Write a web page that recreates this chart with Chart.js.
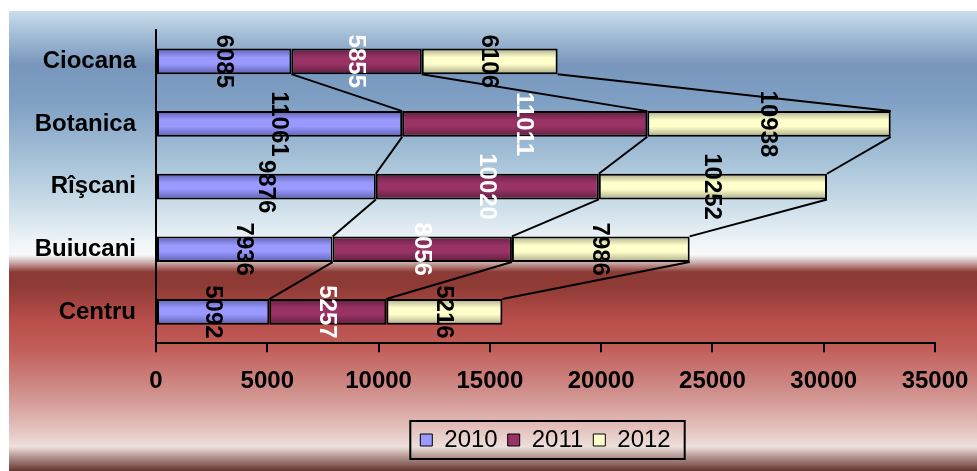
<!DOCTYPE html>
<html>
<head>
<meta charset="utf-8">
<script src="https://cdn.jsdelivr.net/npm/chart.js@4/dist/chart.umd.min.js"></script>
<style>
  html, body { margin: 0; padding: 0; background: #fff; }
  #wrap { width: 977px; height: 471px; }
</style>
</head>
<body>
<div id="wrap"><canvas id="sectorChart"></canvas></div>
<script>
const categories = ['Ciocana', 'Botanica', 'Rîşcani', 'Buiucani', 'Centru'];
const years = ['2010', '2011', '2012'];
const values2010 = [6085, 11061, 9876, 7936, 5092];
const values2011 = [5855, 11011, 10020, 8056, 5257];
const values2012 = [6106, 10938, 10252, 7986, 5216];
const xTicks = [0, 5000, 10000, 15000, 20000, 25000, 30000, 35000];

const FONT = "'Liberation Sans', Arial, sans-serif";
const baseColors = ['#9999ff', '#993366', '#ffffcc'];
const edgeColors = ['#5f5fae', '#5e1e3e', '#a9a985'];
const labelColors = ['#000', '#fff', '#000'];
const BAR_PCT = 0.41;

// shaded bar fill, computed from the category scale
function barFill(i) {
  return (ctx) => {
    const chart = ctx.chart;
    const y = chart.scales.y;
    if (!chart.chartArea || !y || ctx.dataIndex === undefined) return baseColors[i];
    const c = y.getPixelForValue(ctx.dataIndex);
    const h = Math.abs(y.getPixelForValue(1) - y.getPixelForValue(0)) * BAR_PCT;
    const g = chart.ctx.createLinearGradient(0, c - h / 2, 0, c + h / 2);
    g.addColorStop(0, edgeColors[i]);
    g.addColorStop(0.35, baseColors[i]);
    g.addColorStop(0.6, baseColors[i]);
    g.addColorStop(1, edgeColors[i]);
    return g;
  };
}

const backdrop = {
  id: 'backdrop',
  beforeDraw(chart) {
    const { ctx, width, height } = chart;
    ctx.save();
    ctx.fillStyle = '#fff';
    ctx.fillRect(0, 0, width, height);
    const g = ctx.createLinearGradient(0, 0, 0, height);
    const stops = [
      [11, '#cadfec'], [35, '#a3bdd6'], [65, '#7896bc'], [100, '#7e9fc3'],
      [160, '#a6c2d8'], [210, '#cfe0ea'], [245, '#f2f6f9'], [255, '#f8f9fa'],
      [263, '#c8a8a6'], [272, '#8c3a35'], [285, '#8e3a35'], [320, '#b84e4a'],
      [350, '#c25f5b'], [390, '#cf8d89'], [425, '#e2bcb7'], [447, '#ece0dc'],
      [456, '#b89a96'], [471, '#653632']
    ];
    stops.forEach(([y, c]) => g.addColorStop(y / height, c));
    ctx.fillStyle = g;
    ctx.fillRect(9, 11, width - 9, height - 11);
    ctx.restore();
  }
};

const seriesLines = {
  id: 'seriesLines',
  afterDatasetsDraw(chart) {
    const { ctx } = chart;
    ctx.save();
    ctx.strokeStyle = '#000';
    ctx.lineWidth = 2;
    chart.data.datasets.forEach((ds, i) => {
      const els = chart.getDatasetMeta(i).data;
      for (let j = 0; j < els.length - 1; j++) {
        const a = els[j].getProps(['x', 'y', 'height'], true);
        const b = els[j + 1].getProps(['x', 'y', 'height'], true);
        ctx.beginPath();
        ctx.moveTo(a.x, a.y + a.height / 2);
        ctx.lineTo(b.x, b.y - b.height / 2);
        ctx.stroke();
      }
    });
    // value labels, rotated
    ctx.font = 'bold 24px ' + FONT;
    ctx.textAlign = 'center';
    ctx.textBaseline = 'middle';
    chart.data.datasets.forEach((ds, i) => {
      chart.getDatasetMeta(i).data.forEach((el, j) => {
        const p = el.getProps(['x', 'y', 'base'], true);
        ctx.save();
        ctx.translate((p.x + p.base) / 2, p.y);
        ctx.rotate(Math.PI / 2);
        ctx.fillStyle = labelColors[i];
        ctx.fillText(String(ds.data[j]), 0, 1);
        ctx.restore();
      });
    });
    ctx.restore();
  }
};

const legendFrame = {
  id: 'legendFrame',
  afterDraw(chart) {
    const boxes = chart.legend.legendHitBoxes;
    if (!boxes || !boxes.length) return;
    const left = Math.min(...boxes.map(b => b.left)) - 10;
    const right = Math.max(...boxes.map(b => b.left + b.width)) + 14;
    const top = Math.min(...boxes.map(b => b.top)) - 7;
    const bottom = Math.max(...boxes.map(b => b.top + b.height)) + 7;
    const { ctx } = chart;
    ctx.save();
    ctx.globalCompositeOperation = 'destination-over';
    ctx.fillStyle = '#fff';
    ctx.fillRect(left, top, right - left, bottom - top);
    ctx.globalCompositeOperation = 'source-over';
    ctx.strokeStyle = '#000';
    ctx.lineWidth = 2;
    ctx.strokeRect(left, top, right - left, bottom - top);
    ctx.restore();
  }
};

const datasets = [values2010, values2011, values2012].map((vals, i) => ({
  label: years[i],
  data: vals,
  backgroundColor: barFill(i),
  borderColor: '#000',
  borderWidth: 2,
  borderSkipped: false,
  barPercentage: BAR_PCT,
  categoryPercentage: 1,
}));

new Chart(document.getElementById('sectorChart'), {
  type: 'bar',
  data: { labels: categories, datasets },
  options: {
    indexAxis: 'y',
    responsive: true,
    maintainAspectRatio: false,
    animation: false,
    devicePixelRatio: 1,
    layout: { padding: { top: 30, right: 42, bottom: 9, left: 0 } },
    plugins: {
      tooltip: { enabled: false },
      legend: {
        position: 'bottom',
        fullSize: false,
        labels: {
          color: '#000',
          font: { family: FONT, size: 24 },
          boxWidth: 12,
          boxHeight: 12,
          padding: 10,
          generateLabels: (chart) => chart.data.datasets.map((ds, i) => ({
            text: ds.label,
            fillStyle: baseColors[i],
            strokeStyle: '#000',
            lineWidth: 1,
            datasetIndex: i,
          })),
        },
      },
    },
    scales: {
      x: {
        stacked: true,
        min: xTicks[0],
        max: xTicks[xTicks.length - 1],
        afterBuildTicks: (s) => { s.ticks = xTicks.map(v => ({ value: v })); },
        afterFit: (s) => {
          s.height += 7;
          s.paddingLeft = 0;
          s.paddingRight = 0;
        },
        ticks: {
          color: '#000',
          font: { family: FONT, size: 24, weight: 'bold' },
          padding: 15,
          maxRotation: 0,
          callback: (v) => String(v),
        },
        grid: { drawOnChartArea: false, drawTicks: true, tickLength: 9, color: '#000', lineWidth: 2 },
        border: { display: true, color: '#000', width: 2 },
      },
      y: {
        stacked: true,
        afterFit: (s) => { s.width = 156; s.paddingTop = 0; s.paddingBottom = 0; },
        ticks: { color: '#000', font: { family: FONT, size: 24, weight: 'bold' }, padding: 12 },
        grid: { display: false },
        border: { display: true, color: '#000', width: 2 },
      },
    },
  },
  plugins: [backdrop, seriesLines, legendFrame],
});
</script>
</body>
</html>
